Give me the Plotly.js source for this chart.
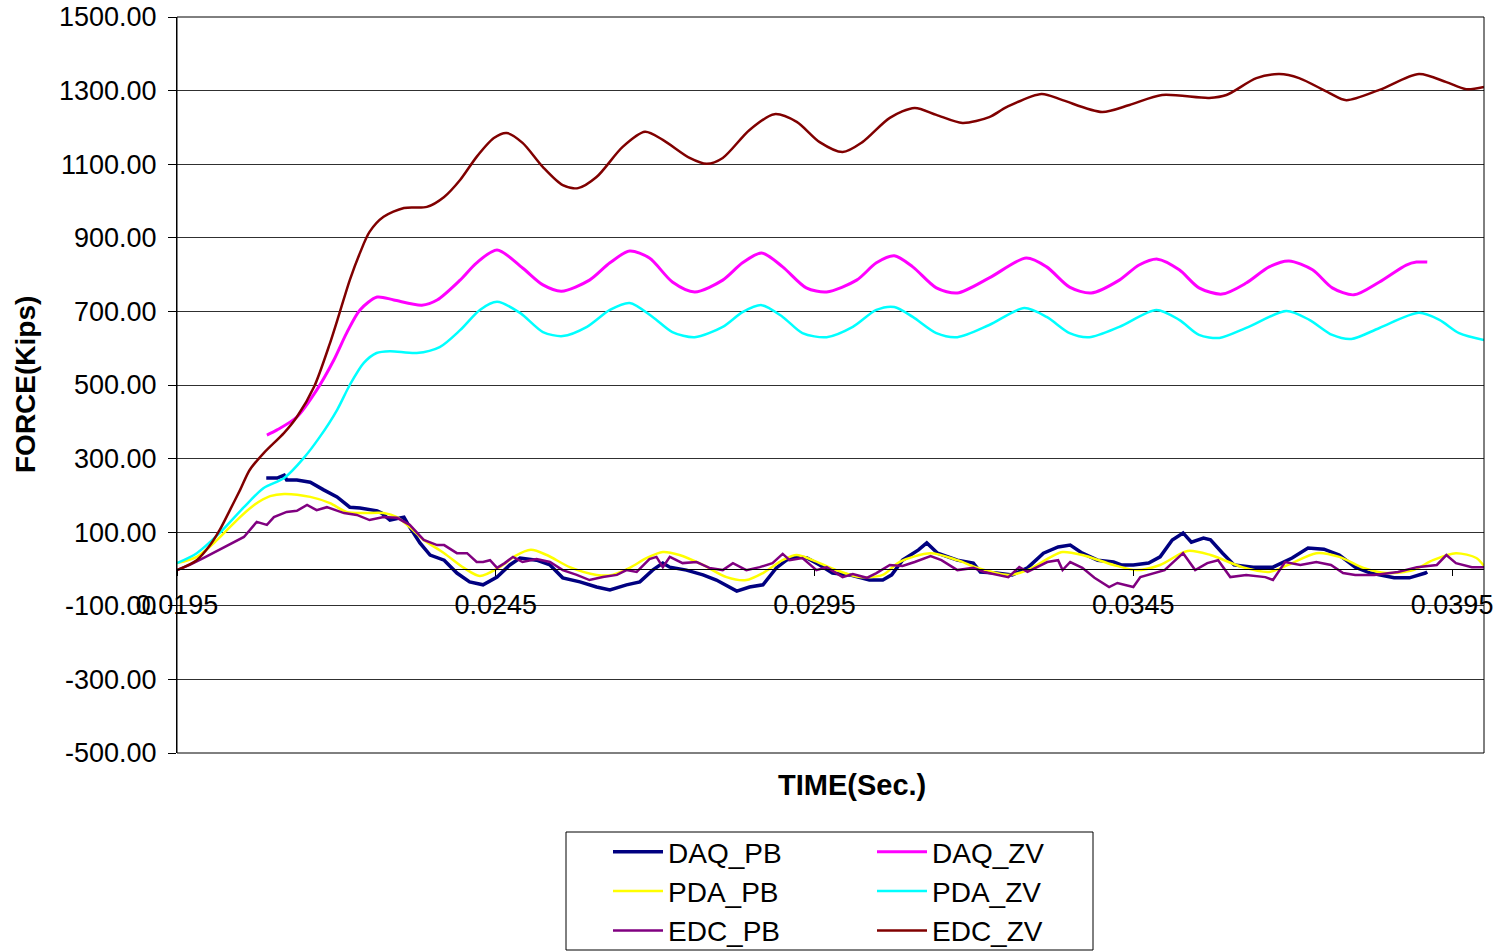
<!DOCTYPE html>
<html>
<head>
<meta charset="utf-8">
<script src="https://cdn.plot.ly/plotly-3.0.1.min.js"></script>
<style>html,body{margin:0;padding:0;background:#fff;}#chart{width:1503px;height:952px;}</style>
</head>
<body>
<div id="chart"></div>
<script>
// ---- data (time in seconds, force in kips) ----
const xTicks = [0.0195, 0.0245, 0.0295, 0.0345, 0.0395];
const xTickText = ["0.0195", "0.0245", "0.0295", "0.0345", "0.0395"];
const yTicks = [-500, -300, -100, 100, 300, 500, 700, 900, 1100, 1300, 1500];
const yTickText = ["-500.00", "-300.00", "-100.00", "100.00", "300.00", "500.00", "700.00", "900.00", "1100.00", "1300.00", "1500.00"];

const tDAQ_PB = [0.02090,0.02107,0.02118,0.02122,0.02138,0.02159,0.02180,0.02201,0.02221,0.02237,0.02264,0.02271,0.02284,0.02306,0.02315,0.02331,0.02347,0.02369,0.02389,0.02409,0.02430,0.02452,0.02472,0.02488,0.02514,0.02535,0.02555,0.02582,0.02608,0.02629,0.02655,0.02676,0.02696,0.02712,0.02723,0.02749,0.02775,0.02796,0.02828,0.02848,0.02869,0.02890,0.02906,0.02922,0.02938,0.02958,0.02978,0.03005,0.03036,0.03057,0.03071,0.03088,0.03113,0.03126,0.03143,0.03174,0.03199,0.03210,0.03235,0.03260,0.03284,0.03309,0.03332,0.03351,0.03370,0.03394,0.03419,0.03431,0.03450,0.03474,0.03492,0.03511,0.03528,0.03541,0.03560,0.03571,0.03590,0.03608,0.03638,0.03669,0.03699,0.03724,0.03749,0.03773,0.03798,0.03822,0.03859,0.03883,0.03908,0.03911];
const DAQ_PB = [247,247,255,242,242,236,215,196,168,166,158,152,133,141,114,71,38,24,-11,-35,-43,-22,11,30,24,11,-24,-35,-49,-57,-43,-35,-3,16,5,-3,-16,-30,-60,-49,-43,3,24,33,30,11,-11,-16,-30,-30,-16,24,52,71,43,24,16,-8,-11,-16,3,43,60,65,43,24,19,11,11,16,33,79,98,73,84,79,43,11,5,5,30,57,54,38,5,-11,-24,-24,-11,-8];

const tPDA_PB = [0.01950,0.01981,0.02013,0.02044,0.02071,0.02096,0.02118,0.02159,0.02190,0.02216,0.02243,0.02274,0.02295,0.02315,0.02337,0.02369,0.02400,0.02425,0.02456,0.02480,0.02505,0.02530,0.02566,0.02608,0.02633,0.02660,0.02687,0.02712,0.02738,0.02775,0.02812,0.02843,0.02869,0.02900,0.02922,0.02947,0.02984,0.03021,0.03057,0.03083,0.03132,0.03174,0.03206,0.03254,0.03284,0.03321,0.03339,0.03370,0.03419,0.03455,0.03492,0.03535,0.03571,0.03621,0.03663,0.03693,0.03737,0.03773,0.03811,0.03847,0.03889,0.03920,0.03956,0.03988,0.04000];
const PDA_PB = [16,33,79,133,174,198,204,196,179,155,152,152,141,114,79,43,3,-19,5,35,52,38,5,-16,-16,3,30,46,38,11,-22,-30,-11,24,38,24,-3,-22,-16,19,43,24,3,-16,-3,33,46,38,11,-3,11,49,38,5,-8,11,43,33,3,-11,-3,24,43,30,8];

const tEDC_PB = [0.01950,0.01970,0.01992,0.02017,0.02055,0.02075,0.02091,0.02102,0.02122,0.02138,0.02154,0.02169,0.02185,0.02212,0.02232,0.02252,0.02274,0.02295,0.02315,0.02337,0.02358,0.02369,0.02389,0.02405,0.02420,0.02430,0.02441,0.02452,0.02464,0.02477,0.02492,0.02514,0.02535,0.02555,0.02577,0.02597,0.02618,0.02640,0.02655,0.02671,0.02691,0.02702,0.02712,0.02723,0.02743,0.02765,0.02785,0.02806,0.02822,0.02843,0.02864,0.02884,0.02900,0.02911,0.02931,0.02953,0.02969,0.02994,0.03010,0.03032,0.03047,0.03068,0.03088,0.03107,0.03132,0.03149,0.03174,0.03199,0.03216,0.03254,0.03271,0.03284,0.03315,0.03332,0.03339,0.03351,0.03370,0.03389,0.03412,0.03425,0.03450,0.03461,0.03499,0.03528,0.03547,0.03566,0.03583,0.03602,0.03627,0.03657,0.03669,0.03688,0.03712,0.03737,0.03760,0.03779,0.03798,0.03828,0.03865,0.03895,0.03926,0.03941,0.03956,0.03981,0.04000];
const EDC_PB = [-3,11,30,52,87,128,120,141,155,158,174,160,168,152,147,133,141,139,120,79,65,65,43,43,19,19,24,3,16,33,19,27,19,-3,-16,-30,-22,-16,-3,-8,27,33,5,33,16,19,3,-3,16,-3,5,16,41,24,30,-3,5,-22,-14,-24,-11,11,8,19,35,24,-3,3,-8,-22,5,-8,19,24,-3,19,3,-24,-49,-38,-49,-22,-3,43,-3,16,24,-22,-16,-22,-30,19,11,19,11,-11,-16,-16,-8,5,11,38,16,5,5];

const tDAQ_ZV = [0.02091,0.02107,0.02138,0.02169,0.02196,0.02216,0.02237,0.02264,0.02290,0.02334,0.02358,0.02394,0.02420,0.02452,0.02492,0.02524,0.02553,0.02597,0.02629,0.02660,0.02691,0.02727,0.02762,0.02806,0.02837,0.02867,0.02900,0.02937,0.02969,0.03016,0.03047,0.03075,0.03104,0.03141,0.03174,0.03224,0.03282,0.03314,0.03350,0.03384,0.03428,0.03459,0.03488,0.03522,0.03553,0.03589,0.03627,0.03663,0.03694,0.03731,0.03762,0.03796,0.03836,0.03878,0.03894,0.03911];
const DAQ_ZV = [364,378,413,486,568,641,704,739,731,717,731,785,832,867,818,772,755,785,832,864,845,780,753,785,832,859,821,764,753,785,832,851,821,764,750,791,845,821,766,750,785,826,842,813,764,747,777,821,837,813,764,745,780,826,834,834];

const tPDA_ZV = [0.01950,0.01981,0.02017,0.02055,0.02086,0.02118,0.02149,0.02174,0.02201,0.02221,0.02243,0.02263,0.02284,0.02326,0.02362,0.02394,0.02425,0.02452,0.02488,0.02524,0.02555,0.02593,0.02629,0.02660,0.02696,0.02727,0.02762,0.02806,0.02837,0.02867,0.02900,0.02931,0.02969,0.03010,0.03047,0.03075,0.03104,0.03141,0.03174,0.03224,0.03279,0.03314,0.03350,0.03381,0.03428,0.03486,0.03522,0.03553,0.03585,0.03627,0.03690,0.03726,0.03762,0.03792,0.03836,0.03898,0.03930,0.03961,0.04000];
const PDA_ZV = [16,43,98,168,220,247,302,359,432,500,560,587,592,587,603,649,704,726,696,644,633,658,704,723,685,644,630,658,698,717,685,641,630,658,704,712,685,641,630,663,709,685,641,630,658,704,677,636,628,655,701,677,636,625,655,696,677,641,622];

const tEDC_ZV = [0.01950,0.01981,0.02002,0.02017,0.02033,0.02049,0.02064,0.02086,0.02118,0.02138,0.02165,0.02190,0.02205,0.02221,0.02237,0.02252,0.02274,0.02306,0.02342,0.02369,0.02394,0.02420,0.02447,0.02467,0.02492,0.02524,0.02555,0.02579,0.02608,0.02649,0.02684,0.02712,0.02754,0.02781,0.02806,0.02848,0.02887,0.02922,0.02958,0.02994,0.03025,0.03068,0.03107,0.03141,0.03182,0.03224,0.03251,0.03306,0.03339,0.03401,0.03444,0.03495,0.03569,0.03596,0.03643,0.03679,0.03710,0.03757,0.03784,0.03836,0.03898,0.03941,0.03972,0.04000];
const EDC_ZV = [-3,24,65,106,160,215,269,315,370,413,495,614,696,785,859,916,957,981,984,1011,1057,1120,1171,1185,1158,1092,1043,1035,1065,1147,1188,1166,1117,1101,1117,1193,1236,1215,1160,1133,1160,1226,1253,1234,1212,1228,1255,1291,1274,1242,1261,1288,1280,1288,1334,1345,1334,1294,1274,1302,1345,1323,1304,1310];

// ---- chart ----
const FONT = 'Liberation Sans, Arial, sans-serif';
function tr(name, x, y, color, width, shape, legend) {
  return {type: 'scatter', mode: 'lines', name: name, x: x, y: y, legend: legend,
    line: {color: color, width: width, shape: shape, smoothing: 0.8}, hoverinfo: 'x+y+name'};
}
const data = [
  tr('DAQ_PB', tDAQ_PB, DAQ_PB, '#000080', 3.5, 'linear', 'legend'),
  tr('DAQ_ZV', tDAQ_ZV, DAQ_ZV, '#FF00FF', 3, 'spline', 'legend2'),
  tr('PDA_PB', tPDA_PB, PDA_PB, '#FFFF00', 2.5, 'spline', 'legend'),
  tr('PDA_ZV', tPDA_ZV, PDA_ZV, '#00FFFF', 2.5, 'spline', 'legend2'),
  tr('EDC_PB', tEDC_PB, EDC_PB, '#800080', 2.5, 'linear', 'legend'),
  tr('EDC_ZV', tEDC_ZV, EDC_ZV, '#800000', 2.5, 'spline', 'legend2')
];

const legendCommon = {xref: 'container', yref: 'container', xanchor: 'left', yanchor: 'top',
  bgcolor: 'rgba(0,0,0,0)', borderwidth: 0, font: {family: FONT, size: 28, color: '#000'},
  tracegroupgap: 0, itemwidth: 50};

const layout = {
  width: 1503, height: 952,
  margin: {l: 177, r: 19, t: 17, b: 199, pad: 0, autoexpand: false},
  paper_bgcolor: '#fff', plot_bgcolor: '#fff',
  font: {family: FONT, color: '#000'},
  showlegend: true,
  legend: Object.assign({}, legendCommon, {x: 608 / 1503, y: 1 - 827 / 952}),
  legend2: Object.assign({}, legendCommon, {x: 872 / 1503, y: 1 - 827 / 952}),
  xaxis: {
    range: [0.0195, 0.04], anchor: 'free', position: 0.25, automargin: false,
    tickmode: 'array', tickvals: xTicks, ticktext: xTickText,
    ticks: 'outside', ticklen: 6, tickcolor: '#000', tickwidth: 1, ticklabelstandoff: 6,
    showline: true, linecolor: '#000', linewidth: 1,
    showgrid: false, zeroline: false,
    tickfont: {family: FONT, size: 27, color: '#000'}
  },
  yaxis: {
    range: [-500, 1500], automargin: false,
    tickmode: 'array', tickvals: yTicks, ticktext: yTickText,
    ticks: 'outside', ticklen: 8, tickcolor: '#000', tickwidth: 1, ticklabelstandoff: 6,
    showline: true, linecolor: '#000', linewidth: 1,
    showgrid: true, gridcolor: '#303030', gridwidth: 1, zeroline: false,
    tickfont: {family: FONT, size: 27, color: '#000'}
  },
  annotations: [
    {text: '<b>FORCE(Kips)</b>', xref: 'paper', yref: 'paper', x: (25 - 177) / 1307, y: 0.5,
     xanchor: 'center', yanchor: 'middle', textangle: -90, showarrow: false,
     font: {family: FONT, size: 28, color: '#000'}},
    {text: '<b>TIME(Sec.)</b>', xref: 'paper', yref: 'paper', x: (852 - 177) / 1307, y: (753 - 785) / 736,
     xanchor: 'center', yanchor: 'middle', showarrow: false,
     font: {family: FONT, size: 29, color: '#000'}}
  ],
  shapes: [
    {type: 'rect', xref: 'paper', yref: 'paper', x0: 0, x1: 1, y0: 0, y1: 1,
     line: {color: '#000', width: 1}, fillcolor: 'rgba(0,0,0,0)', layer: 'above'},
    {type: 'rect', xref: 'paper', yref: 'paper',
     x0: (566 - 177) / 1307, x1: (1093 - 177) / 1307, y0: (753 - 950) / 736, y1: (753 - 832) / 736,
     line: {color: '#000', width: 1}, fillcolor: 'rgba(0,0,0,0)'}
  ]
};

Plotly.newPlot('chart', data, layout, {displayModeBar: false, responsive: false});
</script>
</body>
</html>
